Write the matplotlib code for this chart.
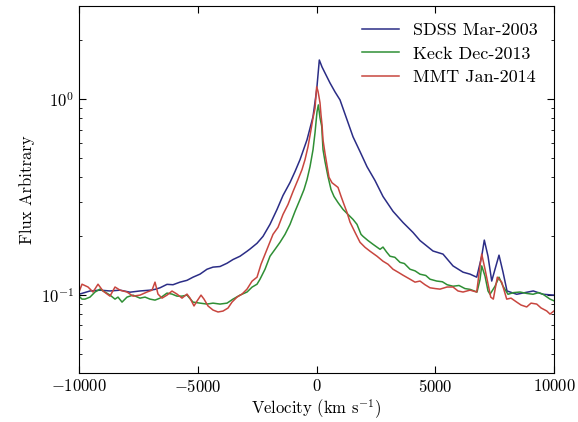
import matplotlib
matplotlib.use("Agg")
import matplotlib.pyplot as plt
import numpy as np

plt.rcParams['font.family'] = 'serif'
plt.rcParams['font.serif'] = ['cmr10']
plt.rcParams['mathtext.fontset'] = 'cm'
plt.rcParams['axes.formatter.use_mathtext'] = True

# SDSS Mar-2003
sdss_v = [-10000, -9537, -9116, -8695, -8274, -7853, -7432, -7011, -6800, -6589,
          -6295, -6042, -5747, -5453, -5200, -4905, -4611, -4358, -4063, -3768,
          -3516, -3221, -2926, -2800, -2505, -2253, -1958, -1663, -1411, -1116,
          -905, -695, -400, -148, 7, 118, 232, 358, 568, 779,
          989, 1284, 1537, 1832, 2126, 2463, 2800, 3221, 3642, 4063,
          4358, 4905, 5326, 5747, 6168, 6463, 6745, 6956, 7065, 7221,
          7377, 7516, 7684, 7853, 8021, 8430, 8779, 9128, 9537, 10000]
sdss_f = [0.101, 0.105, 0.106, 0.105, 0.106, 0.1035, 0.105, 0.106, 0.107, 0.109,
          0.1135, 0.113, 0.1165, 0.119, 0.1235, 0.128, 0.1356, 0.139, 0.140, 0.1455,
          0.152, 0.158, 0.1675, 0.172, 0.184, 0.1996, 0.230, 0.274, 0.323, 0.376,
          0.428, 0.492, 0.622, 0.815, 1.118, 1.589, 1.464, 1.364, 1.213, 1.092,
          0.994, 0.787, 0.644, 0.541, 0.453, 0.385, 0.319, 0.268, 0.235, 0.209,
          0.190, 0.168, 0.162, 0.141, 0.131, 0.128, 0.1235, 0.158, 0.191, 0.158,
          0.118, 0.1356, 0.160, 0.131, 0.105, 0.101, 0.103, 0.105, 0.101, 0.100]

# Keck Dec-2013
keck_v = [-10000, -9874, -9747, -9537, -9326, -9116, -8905, -8695, -8484, -8358,
          -8189, -7979, -7726, -7432, -7221, -7011, -6800, -6589, -6295, -6084,
          -5874, -5663, -5453, -5200, -4905, -4611, -4358, -4063, -3768, -3516,
          -3221, -2926, -2716, -2505, -2379, -2168, -1958, -1747, -1537, -1326,
          -1116, -905, -695, -526, -400, -274, -147, -63, 21, 77,
          147, 218, 274, 358, 484, 611, 737, 905, 1116, 1326,
          1537, 1705, 1874, 1958, 2168, 2379, 2674, 2800, 2950, 3095,
          3300, 3516, 3700, 3937, 4150, 4358, 4600, 4779, 5060, 5300,
          5500, 5747, 6000, 6250, 6463, 6758, 6884, 6956, 7095, 7221,
          7305, 7516, 7684, 7853, 8063, 8300, 8568, 8850, 9116, 9350,
          9537, 9832, 10000]
keck_f = [0.0988, 0.0954, 0.0954, 0.0977, 0.1037, 0.1073, 0.1037, 0.1000, 0.0954, 0.0977,
          0.0921, 0.0977, 0.1000, 0.0965, 0.0977, 0.0954, 0.0943, 0.0965, 0.1024, 0.1012,
          0.0988, 0.0988, 0.1000, 0.0921, 0.0910, 0.0900, 0.0910, 0.0900, 0.0910, 0.0954,
          0.1000, 0.1037, 0.1098, 0.1137, 0.1206, 0.1356, 0.158, 0.1714, 0.1861, 0.2044,
          0.2298, 0.2677, 0.3080, 0.3463, 0.3893, 0.453, 0.5534, 0.675, 0.864, 0.937,
          0.805, 0.730, 0.5534, 0.481, 0.403, 0.3463, 0.319, 0.297, 0.274, 0.2584,
          0.2437, 0.2298, 0.2044, 0.1996, 0.190, 0.1818, 0.1714, 0.176, 0.166, 0.158,
          0.156, 0.147, 0.145, 0.1356, 0.133, 0.1279, 0.126, 0.1206, 0.118, 0.117,
          0.113, 0.111, 0.112, 0.108, 0.107, 0.1037, 0.120, 0.141, 0.125, 0.105,
          0.101, 0.111, 0.1235, 0.111, 0.101, 0.103, 0.1037, 0.102, 0.101, 0.103,
          0.101, 0.0954, 0.0935]

# MMT Jan-2014
mmt_v = [-10000, -9874, -9621, -9411, -9200, -8989, -8695, -8484, -8274, -7979,
         -7726, -7432, -7137, -6926, -6800, -6674, -6505, -6295, -6084, -5874,
         -5663, -5453, -5326, -5158, -5032, -4863, -4737, -4568, -4358, -4147,
         -3937, -3726, -3558, -3347, -3137, -2926, -2716, -2505, -2337, -2168,
         -2000, -1832, -1621, -1411, -1200, -989, -779, -611, -484, -358,
         -232, -147, -63, -21, 7, 63, 105, 147, 189, 232,
         274, 358, 442, 526, 653, 779, 905, 1032, 1158, 1284,
         1411, 1621, 1832, 2042, 2253, 2547, 2800, 3011, 3221, 3432,
         3642, 3937, 4147, 4358, 4568, 4779, 5000, 5200, 5495, 5747,
         5958, 6168, 6463, 6745, 6884, 6956, 7095, 7335, 7445, 7613,
         7798, 8008, 8190, 8430, 8611, 8850, 9032, 9272, 9453, 9693,
         9832, 10000]
mmt_f = [0.1037, 0.1137, 0.110, 0.1037, 0.1137, 0.1049, 0.0988, 0.110, 0.106, 0.1037,
         0.0988, 0.1000, 0.1037, 0.106, 0.1165, 0.1012, 0.0965, 0.1000, 0.1049, 0.1012,
         0.0965, 0.1012, 0.0965, 0.0880, 0.0932, 0.1000, 0.0954, 0.0880, 0.0839, 0.0820,
         0.0829, 0.0859, 0.0921, 0.0977, 0.1012, 0.1073, 0.1178, 0.1235, 0.1438, 0.1617,
         0.1818, 0.2044, 0.2220, 0.2584, 0.2905, 0.3382, 0.3893, 0.4377, 0.4921, 0.5730,
         0.6994, 0.805, 0.900, 1.054, 1.160, 1.100, 1.030, 0.960, 0.834, 0.742,
         0.620, 0.530, 0.460, 0.400, 0.375, 0.365, 0.355, 0.320, 0.2905, 0.2645,
         0.236, 0.2093, 0.1861, 0.1755, 0.1676, 0.158, 0.149, 0.1438, 0.1356, 0.131,
         0.1264, 0.1206, 0.1165, 0.118, 0.113, 0.109, 0.108, 0.1073, 0.110, 0.110,
         0.105, 0.1037, 0.106, 0.1037, 0.141, 0.162, 0.1356, 0.0977, 0.0954, 0.1235,
         0.1165, 0.0954, 0.0965, 0.0921, 0.089, 0.087, 0.091, 0.090, 0.086, 0.083,
         0.080, 0.083]

labels = ['SDSS Mar-2003', 'Keck Dec-2013', 'MMT Jan-2014']
colors = ['#2b2d86', '#2f8f35', '#c8463f']

fig = plt.figure(figsize=(5.78, 4.22), dpi=100)
ax = fig.add_axes([0.1367, 0.1161, 0.8218, 0.8697])

for v, f, lab, c in zip([sdss_v, keck_v, mmt_v], [sdss_f, keck_f, mmt_f], labels, colors):
    ax.plot(v, f, color=c, lw=1.1, label=lab)

ax.set_yscale('log')
ax.set_xlim(-10000, 10000)
ax.set_ylim(0.04, 3)
ax.set_xticks([-10000, -5000, 0, 5000, 10000])
ax.tick_params(which='both', direction='in', top=True, right=True, labelsize=12)
ax.tick_params(which='major', length=5)
ax.tick_params(which='minor', length=2.5)
ax.set_xlabel(r'Velocity (km s$^{-1}$)', fontsize=12, labelpad=2)
ax.set_ylabel('Flux Arbitrary', fontsize=12)
ax.legend(loc='upper right', frameon=False, fontsize=13, handlelength=2.0,
          labelspacing=0.45)

fig.savefig('out.png', dpi=100)
